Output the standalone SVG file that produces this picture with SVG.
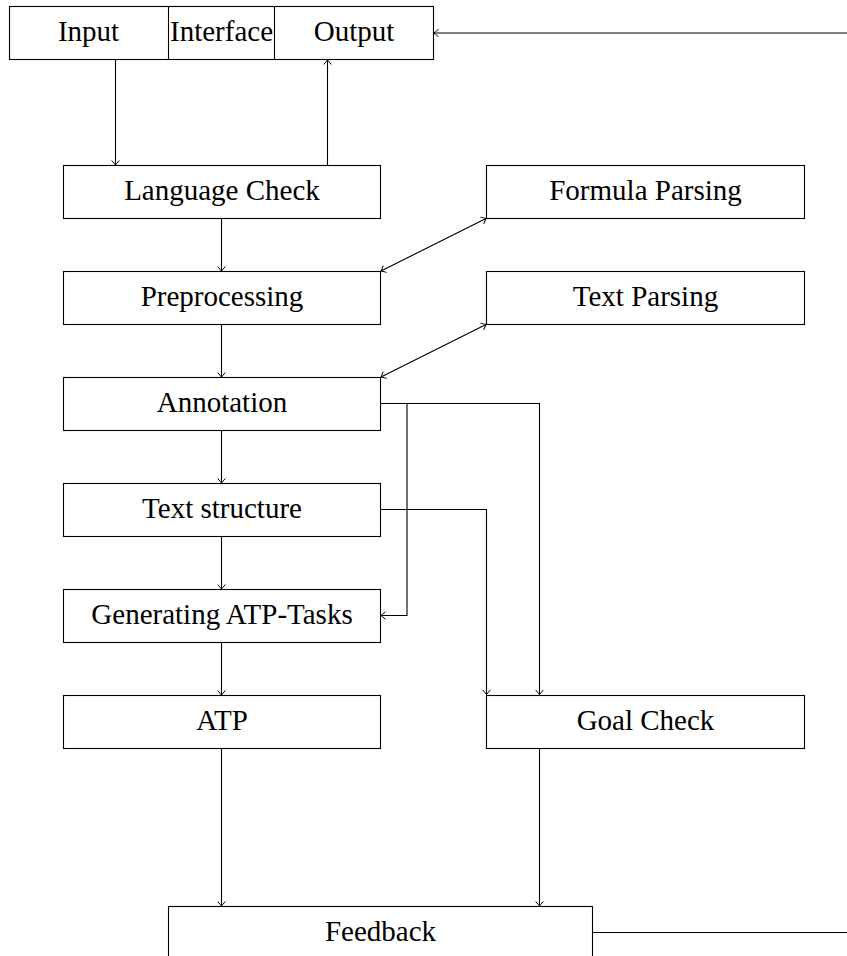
<svg xmlns="http://www.w3.org/2000/svg" width="847" height="956" viewBox="0 0 847 956">
<style>
.box{fill:#fff;stroke:#000;stroke-width:1.1}
.t{font-family:"Liberation Serif","Times New Roman",serif;font-size:29px;fill:#000;text-anchor:middle}
.c{fill:none;stroke:#000;stroke-width:1.1}
</style>
<defs>
<marker id="ah" markerUnits="userSpaceOnUse" markerWidth="12" markerHeight="12" viewBox="-6 -6 12 12" refX="0" refY="0" orient="auto-start-reverse">
<path d="M-4.5,-3.8 Q-1.2,-1 0,0 Q-1.2,1 -4.5,3.8" fill="none" stroke="#000" stroke-width="1"/>
</marker>
</defs>
<rect width="847" height="956" fill="#fff"/>
<g id="connectors">
<path class="c" d="M115.5,59.5 V165" marker-end="url(#ah)"/>
<path class="c" d="M327.5,165 V60" marker-end="url(#ah)"/>
<path class="c" d="M847,33 H434" marker-end="url(#ah)"/>
<path class="c" d="M221.5,218.5 V271" marker-end="url(#ah)"/>
<path class="c" d="M221.5,324.5 V377" marker-end="url(#ah)"/>
<path class="c" d="M221.5,430.5 V483" marker-end="url(#ah)"/>
<path class="c" d="M221.5,536.5 V589" marker-end="url(#ah)"/>
<path class="c" d="M221.5,642.5 V695" marker-end="url(#ah)"/>
<path class="c" d="M221.5,748.5 V906" marker-end="url(#ah)"/>
<path class="c" d="M381,271 L486,218.5" marker-start="url(#ah)" marker-end="url(#ah)"/>
<path class="c" d="M381,377 L486,324.5" marker-start="url(#ah)" marker-end="url(#ah)"/>
<path class="c" d="M380.5,403.5 H407 V615.5 H381" marker-end="url(#ah)"/>
<path class="c" d="M380.5,403.5 H539.5 V694.5" marker-end="url(#ah)"/>
<path class="c" d="M380.5,509.5 H486.5 V694.5" marker-end="url(#ah)"/>
<path class="c" d="M539.5,748.5 V906" marker-end="url(#ah)"/>
<path class="c" d="M592.5,932.5 H847"/>
</g>
<g id="interface">
<rect class="box" x="9.5" y="6.5" width="424" height="53"/>
<path class="c" d="M168.5,6.5 V59.5 M274.5,6.5 V59.5"/>
<text class="t" x="88.5" y="40.5">Input</text>
<text class="t" x="221.5" y="40.5">Interface</text>
<text class="t" x="354" y="40.5">Output</text>
</g>
<g id="language-check">
<rect class="box" x="63.5" y="165.5" width="317" height="53"/>
<text class="t" x="222" y="199.5">Language Check</text>
</g>
<g id="formula-parsing">
<rect class="box" x="486.5" y="165.5" width="318" height="53"/>
<text class="t" x="645.5" y="199.5">Formula Parsing</text>
</g>
<g id="preprocessing">
<rect class="box" x="63.5" y="271.5" width="317" height="53"/>
<text class="t" x="222" y="305.5">Preprocessing</text>
</g>
<g id="text-parsing">
<rect class="box" x="486.5" y="271.5" width="318" height="53"/>
<text class="t" x="645.5" y="305.5">Text Parsing</text>
</g>
<g id="annotation">
<rect class="box" x="63.5" y="377.5" width="317" height="53"/>
<text class="t" x="222" y="411.5">Annotation</text>
</g>
<g id="text-structure">
<rect class="box" x="63.5" y="483.5" width="317" height="53"/>
<text class="t" x="222" y="517.5">Text structure</text>
</g>
<g id="generating-atp-tasks">
<rect class="box" x="63.5" y="589.5" width="317" height="53"/>
<text class="t" x="222" y="623.5">Generating ATP-Tasks</text>
</g>
<g id="atp">
<rect class="box" x="63.5" y="695.5" width="317" height="53"/>
<text class="t" x="222" y="729.5">ATP</text>
</g>
<g id="goal-check">
<rect class="box" x="486.5" y="695.5" width="318" height="53"/>
<text class="t" x="645.5" y="729.5">Goal Check</text>
</g>
<g id="feedback">
<rect class="box" x="168.5" y="906.5" width="424" height="80"/>
<text class="t" x="380.5" y="940.5">Feedback</text>
</g>
</svg>
